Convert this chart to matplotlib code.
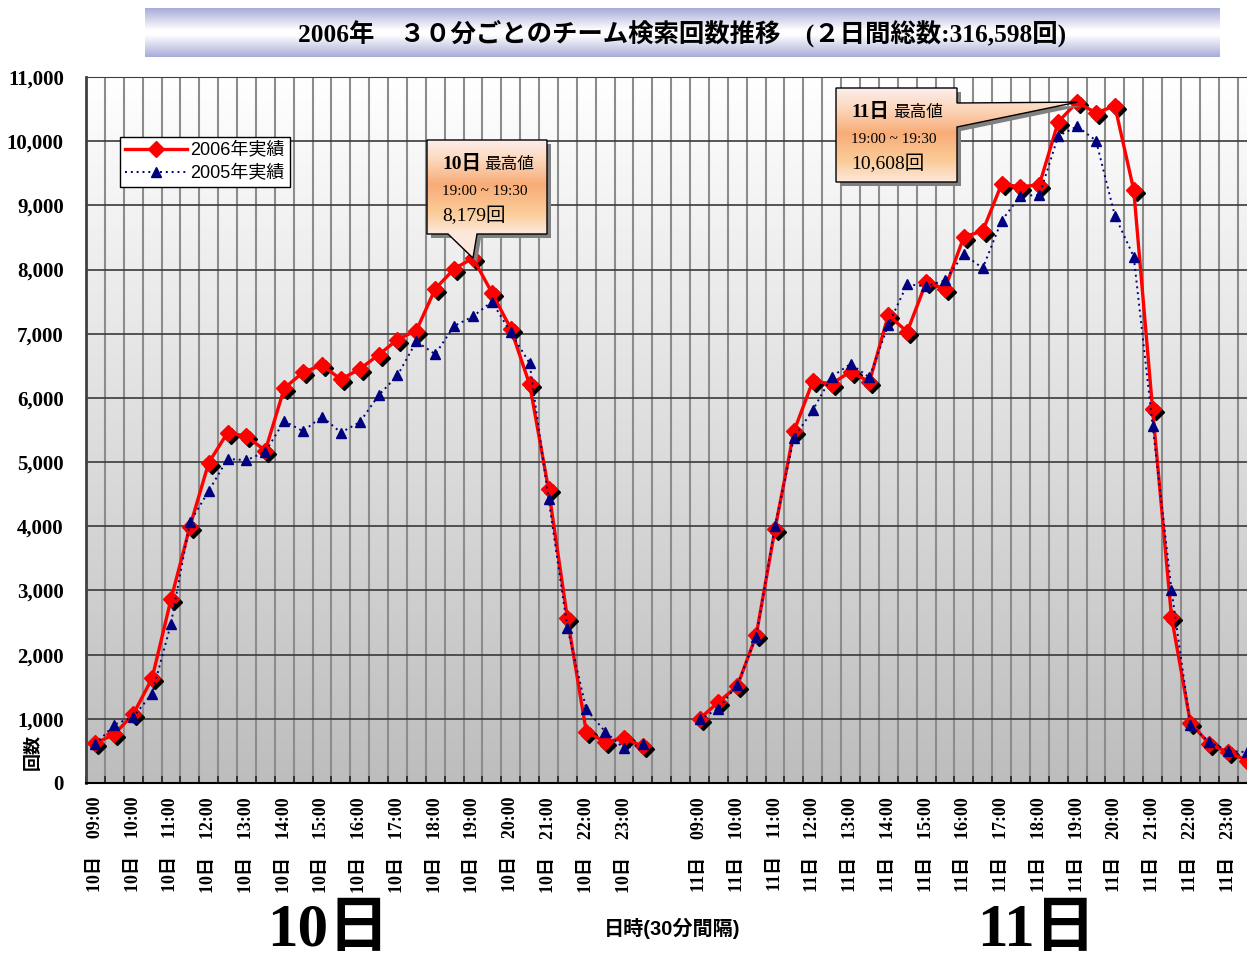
import numpy as np
import matplotlib
matplotlib.use('Agg')
import matplotlib.pyplot as plt
from matplotlib.colors import LinearSegmentedColormap
from matplotlib.lines import Line2D
from matplotlib.patches import Polygon
from matplotlib.transforms import offset_copy

# 30分ごとの検索回数 (09:00 - 23:30)
days = ['10日', '11日']
hours = [f'{h:02d}:00' for h in range(9, 24)]
count_2006_d10 = [620, 760, 1070, 1630, 2860, 3990, 4990, 5460, 5400, 5180,
                  6150, 6400, 6510, 6290, 6450, 6670, 6910, 7050, 7700, 8010,
                  8179, 7640, 7080, 6210, 4580, 2570, 800, 640, 700, 570]
count_2005_d10 = [600, 910, 1030, 1390, 2480, 4060, 4550, 5050, 5030, 5160,
                  5640, 5480, 5710, 5460, 5620, 6040, 6350, 6880, 6680, 7120,
                  7270, 7500, 7020, 6540, 4430, 2420, 1150, 800, 540, 610]
count_2006_d11 = [1000, 1260, 1510, 2300, 3960, 5480, 6260, 6220, 6410, 6250,
                  7290, 7030, 7800, 7700, 8510, 8600, 9330, 9290, 9320, 10300,
                  10608, 10440, 10550, 9240, 5820, 2590, 940, 610, 480, 350]
count_2005_d11 = [990, 1160, 1530, 2280, 4010, 5380, 5810, 6330, 6530, 6320,
                  7140, 7770, 7740, 7830, 8240, 8020, 8760, 9150, 9160, 10080,
                  10230, 10010, 8840, 8200, 5570, 3010, 900, 640, 500, 480]
gap = 2
total_2days = 316598

W, H = 1247, 957
SERIF = ['Liberation Serif', 'Noto Sans CJK JP']
SANS = ['Liberation Sans', 'Noto Sans CJK JP']

n = len(count_2006_d10)
x10 = np.arange(n)
x11 = np.arange(n + gap, 2 * n + gap)
xs = np.arange(2 * n + gap)
y2006 = np.concatenate([count_2006_d10, [np.nan] * gap, count_2006_d11])
y2005 = np.concatenate([count_2005_d10, [np.nan] * gap, count_2005_d11])

fig = plt.figure(figsize=(W / 100, H / 100), dpi=100)
fig.patch.set_facecolor('white')
ax = fig.add_axes([86 / W, 174 / H, (W - 86) / W, 706 / H])

# 背景グラデーション
bg = LinearSegmentedColormap.from_list('bg', ['#bdbdbd', '#ffffff'])
ax.imshow(np.linspace(1, 0, 256).reshape(-1, 1), cmap=bg, aspect='auto',
          extent=(-0.5, xs[-1], 0, 11000), zorder=0)

shadow = offset_copy(ax.transData, fig=fig, x=3, y=-3, units='dots')
ax.plot(xs, y2006, ls='none', marker='D', ms=8, color='black',
        transform=shadow, zorder=3)
ax.plot(xs, y2006, color='#ff0000', lw=2.4, marker='D', ms=8,
        mec='#ff0000', zorder=4)
ax.plot(xs, y2005, color='#000080', lw=1.4, ls=(0, (1, 2)), marker='^', ms=7,
        zorder=5)

ax.set_xlim(-0.5, xs[-1])
ax.set_ylim(0, 11000)
ax.set_yticks(np.arange(0, 11001, 1000))
ax.set_yticklabels([f'{v:,}' for v in range(0, 11001, 1000)],
                   family=SERIF, weight='bold', fontsize=15)
ticks = list(x10[::2]) + list(x11[::2])
labels = [f'{days[0]}　{h}' for h in hours] + [f'{days[1]}　{h}' for h in hours]
ax.set_xticks(ticks)
ax.set_xticklabels(labels, rotation=90, family=SERIF, weight='bold', fontsize=13)
ax.set_xticks(np.arange(-0.5, xs[-1], 1), minor=True)
ax.tick_params(axis='x', which='major', length=0, pad=10)
ax.tick_params(axis='x', which='minor', direction='in', length=5, width=1.2,
               color='#222222')
ax.tick_params(axis='y', length=0, pad=16)
ax.yaxis.grid(True, color='#3a3a3a', lw=1.2)
ax.xaxis.grid(True, which='minor', color='#8c8c8c', lw=1.5)
ax.xaxis.grid(False, which='major')
ax.spines['right'].set_visible(False)
ax.spines['left'].set_color('#404040')
ax.spines['left'].set_linewidth(2)
ax.spines['top'].set_color('#404040')
ax.spines['bottom'].set_color('black')
ax.spines['bottom'].set_linewidth(1.5)

ax.set_ylabel('回数', family=SANS, weight='bold', fontsize=13)
ax.yaxis.set_label_coords(-0.038, 0.044)

handles = [Line2D([], [], color='#ff0000', lw=2.4, marker='D', ms=8),
           Line2D([], [], color='#000080', lw=1.4, ls=(0, (1, 2)), marker='^', ms=7)]
leg = ax.legend(handles, ['2006年実績', '2005年実績'], loc='upper left',
                bbox_to_anchor=(120 / W, 1 - 137 / H), bbox_transform=fig.transFigure,
                prop={'family': SANS, 'size': 13}, frameon=True, fancybox=False,
                edgecolor='black', framealpha=1, borderaxespad=0, handlelength=3.4,
                borderpad=0.3, labelspacing=0.3, handletextpad=0.2)
leg.get_frame().set_linewidth(1)

# タイトル帯
band = fig.add_axes([145 / W, 1 - 57 / H, 1075 / W, 49 / H])
band_cmap = LinearSegmentedColormap.from_list(
    'band', [(0, '#a9acd9'), (0.45, '#ffffff'), (0.55, '#ffffff'), (1, '#a9acd9')])
band.imshow(np.linspace(0, 1, 100).reshape(-1, 1), cmap=band_cmap, aspect='auto')
band.axis('off')
fig.text(682 / W, 1 - 33 / H,
         f'2006年　３０分ごとのチーム検索回数推移　(２日間総数:{total_2days:,}回)',
         family=SERIF, weight='bold', fontsize=18.3, ha='center', va='center')

fig.text(328 / W, 1 - 903 / H, days[0], family=SERIF, weight='bold', fontsize=44,
         ha='center', va='top')
fig.text(1037 / W, 1 - 903 / H, days[1], family=SERIF, weight='bold', fontsize=44,
         ha='center', va='top')
fig.text(672 / W, 1 - 928 / H, '日時(30分間隔)', family=SANS, weight='bold',
         fontsize=14.5, ha='center', va='center')

# 吹き出し (最高値)
ov = fig.add_axes([0, 0, 1, 1])
ov.axis('off')
ov.patch.set_alpha(0)
call_cmap = LinearSegmentedColormap.from_list(
    'call', [(0, '#fdeeec'), (0.22, '#fcd7bb'), (0.48, '#f8ac78'),
             (0.78, '#fbcc98'), (1, '#fde8dc')])


def to_px(i, v):
    px, py = ax.transData.transform((i, v))
    return px, H - py


def callout(box, pointer, day, idx, values, xpos):
    x0, y0, x1, y1 = box
    tip = to_px(xpos[idx], values[idx])
    a, b = pointer[1]
    if pointer[0] == 'bottom':
        verts = [(x0, y0), (x1, y0), (x1, y1), (b, y1), tip, (a, y1), (x0, y1)]
    else:
        verts = [(x0, y0), (x1, y0), (x1, a), tip, (x1, b), (x1, y1), (x0, y1)]
    verts = np.array(verts)
    ov.add_patch(Polygon(verts + [4, 4], closed=True, fc='#808080', ec='none'))
    outline = Polygon(verts, closed=True, fc='none', ec='black', lw=1, zorder=3)
    ov.add_patch(outline)
    mnx, mny = verts.min(axis=0)
    mxx, mxy = verts.max(axis=0)
    yy = np.linspace(mny, mxy, 200)
    grad = np.clip((yy - y0) / (y1 - y0), 0, 1).reshape(-1, 1)
    im = ov.imshow(grad, cmap=call_cmap, vmin=0, vmax=1, aspect='auto',
                   extent=(mnx, mxx, mxy, mny), interpolation='bilinear', zorder=2)
    im.set_clip_path(outline)
    mins = 9 * 60 + idx * 30
    t0 = f'{mins // 60:02d}:{mins % 60:02d}'
    t1 = f'{(mins + 30) // 60:02d}:{(mins + 30) % 60:02d}'
    ov.text(x0 + 15, y0 + 29, day, family=SERIF, weight='bold', fontsize=14,
            va='baseline', zorder=4)
    ov.text(x0 + 57, y0 + 29, '最高値', family=SANS, fontsize=12,
            va='baseline', zorder=4)
    ov.text(x0 + 15, y0 + 55, f'{t0} ~ {t1}', family=SERIF, fontsize=11,
            va='baseline', zorder=4)
    ov.text(x0 + 15, y0 + 81, f'{values[idx]:,}回', family=SERIF, fontsize=14,
            va='baseline', zorder=4)


callout((427, 140, 547, 234), ('bottom', (448, 477)), days[0],
        int(np.argmax(count_2006_d10)), count_2006_d10, x10)
callout((836, 88, 957, 182), ('right', (103, 127)), days[1],
        int(np.argmax(count_2006_d11)), count_2006_d11, x11)
ov.set_xlim(0, W)
ov.set_ylim(H, 0)

fig.savefig('out.png', dpi=100)
